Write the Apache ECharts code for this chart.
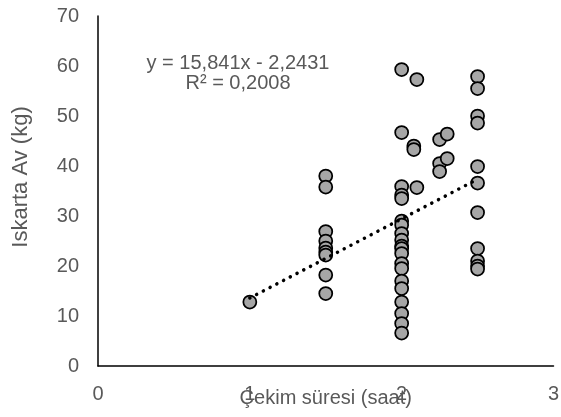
<!DOCTYPE html>
<html>
<head>
<meta charset="utf-8">
<script src="https://cdn.jsdelivr.net/npm/echarts@6/dist/echarts.min.js"></script>
<style>
  html, body { margin: 0; padding: 0; background: #fff; }
  #chart { width: 561px; height: 417px; }
</style>
</head>
<body>
<div id="chart"></div>
<script>
// Towing duration (hours) and discarded catch (kg), one entry per haul
const hours = [
  1,
  1.5, 1.5, 1.5, 1.5, 1.5, 1.5, 1.5, 1.5, 1.5,
  2, 2, 2, 2, 2, 2, 2, 2, 2, 2, 2, 2, 2, 2, 2, 2, 2, 2, 2, 2,
  2.1, 2.1,
  2.08, 2.08,
  2.25, 2.25, 2.25,
  2.3, 2.3,
  2.5, 2.5, 2.5, 2.5, 2.5, 2.5, 2.5, 2.5, 2.5, 2.5, 2.5
];
const discardKg = [
  12.8,
  38.0, 35.8, 26.9, 25.0, 23.6, 22.8, 22.2, 18.2, 14.5,
  59.3, 46.7, 35.9, 34.2, 33.5, 29.0, 28.2, 26.5, 25.2, 24.0, 23.5, 22.5, 20.5, 19.5, 17.0, 15.5, 12.8, 10.5, 8.5, 6.6,
  57.3, 35.7,
  44.0, 43.3,
  45.3, 40.5, 38.9,
  46.4, 41.5,
  57.9, 55.5, 50.0, 48.6, 39.9, 36.6, 30.7, 23.5, 21.0, 20.0, 19.4
];

// Linear trend line coefficients and fit quality
const slope = 15.841;
const intercept = -2.2431;
const rSquared = 0.2008;

// Axis tick values
const xTicks = [0, 1, 2, 3];
const yTicks = [0, 10, 20, 30, 40, 50, 60, 70];

const fmt = (v) => String(Math.abs(v)).replace('.', ',');
const eqText = 'y = ' + fmt(slope) + 'x ' + (intercept < 0 ? '- ' : '+ ') + fmt(intercept);
const r2Text = 'R² = ' + fmt(rSquared);

const points = hours.map((h, i) => [h, discardKg[i]]);
const xMin = Math.min(...hours), xMax = Math.max(...hours);
const trend = [[xMin, slope * xMin + intercept], [xMax, slope * xMax + intercept]];

const FONT = '"Liberation Sans", Arial, sans-serif';
const GREY = '#595959';

const chart = echarts.init(document.getElementById('chart'), null, { renderer: 'canvas' });
chart.setOption({
  animation: false,
  backgroundColor: '#fff',
  grid: { left: 98, right: 7.5, top: 16, bottom: 51, outerBoundsMode: 'none', containLabel: false },
  xAxis: {
    type: 'value',
    min: xTicks[0], max: xTicks[xTicks.length - 1], interval: 1,
    axisLine: { show: true, onZero: false, lineStyle: { color: '#000', width: 1.5 } },
    axisTick: { show: false },
    splitLine: { show: false },
    axisLabel: { color: GREY, fontFamily: FONT, fontSize: 20, margin: 18 },
    name: 'Çekim süresi (saat)',
    nameLocation: 'middle',
    nameGap: 22,
    nameMoveOverlap: false,
    nameTextStyle: { color: GREY, fontFamily: FONT, fontSize: 20 }
  },
  yAxis: {
    type: 'value',
    min: yTicks[0], max: yTicks[yTicks.length - 1], interval: 10,
    axisLine: { show: true, onZero: false, lineStyle: { color: '#000', width: 1.5 } },
    axisTick: { show: false },
    splitLine: { show: false },
    axisLabel: { color: GREY, fontFamily: FONT, fontSize: 20, margin: 19 }
  },
  graphic: [
    {
      type: 'text', x: 21, y: 177, rotation: Math.PI / 2,
      style: { text: 'Iskarta Av (kg)', fill: GREY, font: '22px ' + FONT, align: 'center', verticalAlign: 'middle' }
    },
    {
      type: 'text', x: 238, y: 63,
      style: { text: eqText, fill: GREY, font: '20px ' + FONT, align: 'center', verticalAlign: 'middle' }
    },
    {
      type: 'text', x: 238, y: 83,
      style: { text: r2Text, fill: GREY, font: '20px ' + FONT, align: 'center', verticalAlign: 'middle' }
    }
  ],
  series: [
    {
      type: 'scatter',
      data: points,
      symbol: 'circle',
      symbolSize: 13,
      itemStyle: { color: '#a6a6a6', borderColor: '#000', borderWidth: 1.75, opacity: 1 },
      z: 2
    },
    {
      type: 'line',
      data: trend,
      symbol: 'none',
      lineStyle: { color: '#000', width: 3.5, type: [0.1, 7.5], cap: 'round' },
      z: 3
    }
  ]
});
</script>
</body>
</html>
